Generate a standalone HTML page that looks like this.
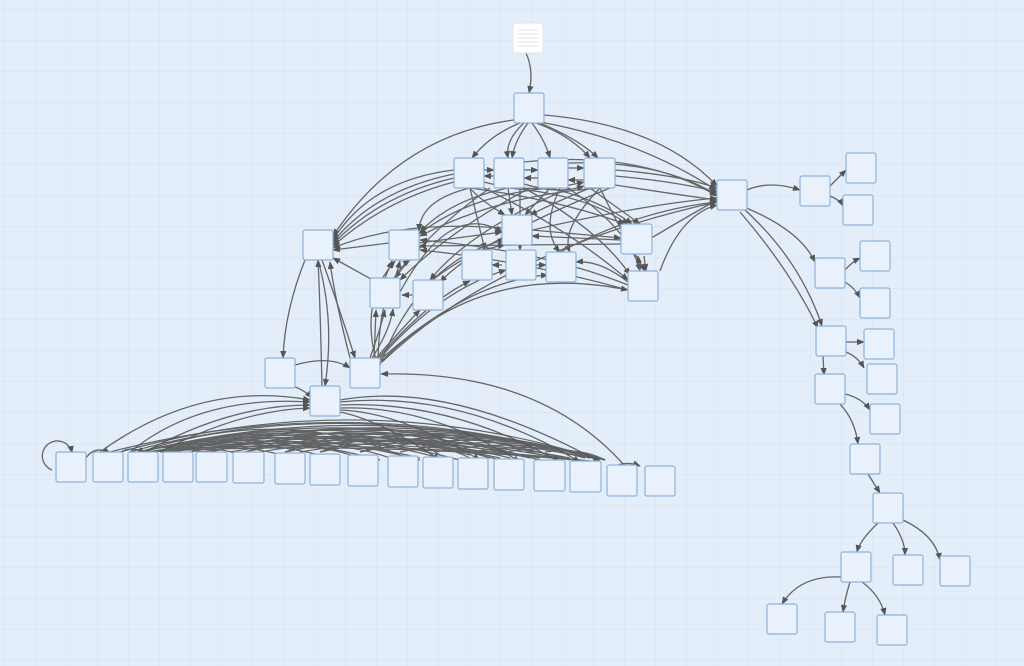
<!DOCTYPE html>
<html><head><meta charset="utf-8"><style>
html,body{margin:0;padding:0;width:1024px;height:666px;overflow:hidden;background:#e4eefa;}
svg{display:block}
</style></head><body>
<svg width="1024" height="666" viewBox="0 0 1024 666" xmlns="http://www.w3.org/2000/svg">
<defs>
<pattern id="g" width="31" height="31" patternUnits="userSpaceOnUse" x="5" y="10">
<path d="M31 0V31H0" fill="none" stroke="#d3e1f1" stroke-width="1"/>
</pattern>
<marker id="a" viewBox="0 0 10 10" refX="9" refY="5" markerWidth="6" markerHeight="6" orient="auto"><path d="M0 1L10 5L0 9z" fill="#555"/></marker>
</defs>
<rect width="1024" height="666" fill="#e4eefa"/>
<rect width="1024" height="666" fill="url(#g)"/>
<g fill="none" stroke="#666" stroke-width="1.3" marker-end="url(#a)">
<path d="M526 53Q534 70 529 93"/>
<path d="M520 123Q490 135 472 158"/>
<path d="M524 123Q505 140 508 158"/>
<path d="M528 123Q515 140 512 158"/>
<path d="M532 123Q545 140 550 158"/>
<path d="M536 123Q570 135 590 158"/>
<path d="M540 123Q580 140 598 158"/>
<path d="M514 120Q400 135 333 236"/>
<path d="M544 115Q660 125 717 186"/>
<path d="M540 122Q640 140 716 190"/>
<path d="M484 170L494 170"/><path d="M494 176L484 176"/>
<path d="M524 170L538 170"/><path d="M538 178L524 178"/>
<path d="M568 168L584 168"/><path d="M584 180L568 180"/>
<path d="M484 182Q530 195 584 182"/>
<path d="M524 184Q560 195 584 186"/>
<path d="M615 170Q680 175 717 188"/>
<path d="M615 176Q680 182 717 192"/>
<path d="M568 163Q660 160 717 195"/>
<path d="M524 162Q640 150 717 196"/>
<path d="M615 185Q680 195 717 200"/>
<path d="M660 271Q680 215 717 205"/>
<path d="M560 252Q640 210 717 202"/>
<path d="M524 232Q640 205 717 198"/>
<path d="M648 240Q690 215 717 200"/>
<path d="M454 170Q370 180 333 240"/>
<path d="M454 174Q375 190 333 242"/>
<path d="M454 178Q380 195 333 244"/>
<path d="M454 182Q385 200 333 246"/>
<path d="M389 243L333 250"/>
<path d="M502 228Q400 220 333 248"/>
<path d="M470 188Q480 200 505 215"/>
<path d="M508 188L512 215"/>
<path d="M550 188L525 215"/>
<path d="M590 188Q560 200 530 215"/>
<path d="M470 188Q420 200 419 231"/>
<path d="M508 188Q450 200 420 232"/>
<path d="M550 188Q470 195 419 234"/>
<path d="M600 188Q500 195 420 236"/>
<path d="M470 188Q560 200 625 224"/>
<path d="M508 188Q590 195 628 225"/>
<path d="M550 188Q600 200 632 224"/>
<path d="M590 188L640 224"/>
<path d="M484 188Q570 230 628 280"/>
<path d="M524 188Q600 230 630 275"/>
<path d="M568 188Q630 230 640 271"/>
<path d="M600 188Q620 230 645 271"/>
<path d="M470 188Q480 230 485 250"/>
<path d="M520 188Q520 230 520 250"/>
<path d="M560 188Q540 230 560 252"/>
<path d="M600 188Q560 230 570 252"/>
<path d="M490 188Q430 230 395 278"/>
<path d="M530 188Q450 230 400 280"/>
<path d="M570 188Q470 230 430 280"/>
<path d="M610 188Q480 240 440 282"/>
<path d="M419 243L502 232"/>
<path d="M532 230L621 238"/>
<path d="M621 240L532 236"/>
<path d="M621 244L419 246"/>
<path d="M502 265L492 265"/>
<path d="M536 265L546 265"/>
<path d="M628 285Q540 250 420 240"/>
<path d="M628 290Q520 260 420 250"/>
<path d="M628 282Q600 260 576 262"/>
<path d="M640 271L638 256"/><path d="M644 256L646 271"/>
<path d="M395 280L400 261"/><path d="M385 278L392 261"/>
<path d="M400 295L333 258"/>
<path d="M413 295L402 295"/>
<path d="M400 292Q450 200 502 232"/>
<path d="M430 282Q470 250 505 245"/>
<path d="M305 260Q285 310 283 358"/>
<path d="M322 260Q340 310 355 358"/>
<path d="M318 260Q335 320 325 386"/>
<path d="M350 358Q335 300 330 262"/>
<path d="M295 365Q330 355 350 368"/>
<path d="M290 385Q305 390 312 398"/>
<path d="M370 358Q380 330 385 310"/>
<path d="M372 358Q390 330 393 309"/>
<path d="M374 358L376 310"/>
<path d="M376 358Q410 320 420 310"/>
<path d="M378 358Q430 300 470 281"/>
<path d="M380 358Q440 290 506 270"/>
<path d="M380 360Q470 280 548 275"/>
<path d="M381 362Q480 260 628 290"/>
<path d="M380 365Q420 260 505 240"/>
<path d="M378 360Q380 280 410 260"/>
<path d="M376 360Q360 300 395 261"/>
<path d="M382 362Q500 250 717 202"/>
<path d="M322 386Q320 300 318 260"/>
<path d="M625 466Q540 370 381 374"/>
<path d="M747 190Q770 180 800 190"/>
<path d="M830 186Q838 178 846 170"/>
<path d="M830 196Q840 200 843 206"/>
<path d="M744 207Q800 230 815 262"/>
<path d="M745 210Q800 260 822 326"/>
<path d="M740 212Q790 270 818 328"/>
<path d="M845 270Q852 262 860 258"/>
<path d="M845 282Q855 288 860 298"/>
<path d="M846 342Q855 342 864 342"/>
<path d="M846 352Q858 357 864 368"/>
<path d="M823 356L824 375"/>
<path d="M845 394Q862 398 870 410"/>
<path d="M840 404Q855 420 858 444"/>
<path d="M868 474L880 493"/>
<path d="M878 523Q860 540 857 552"/>
<path d="M893 523Q905 540 905 555"/>
<path d="M903 520Q935 535 940 560"/>
<path d="M841 577Q800 575 782 604"/>
<path d="M850 582Q845 598 843 612"/>
<path d="M862 582Q880 595 885 615"/>
<path d="M52 470A15 15 0 1 1 72 453"/>
<path d="M86 458Q95 445 110 453"/>
<path d="M120 453Q130 445 145 453"/>
<path d="M612 468Q625 460 640 466"/>
<path d="M100 452Q200 380 310 400"/>
<path d="M130 452Q200 395 310 402"/>
<path d="M145 452Q230 405 310 405"/>
<path d="M160 452Q240 410 310 408"/>
<path d="M340 400Q450 380 600 462"/>
<path d="M340 402Q460 390 580 462"/>
<path d="M340 405Q450 400 560 462"/>
<path d="M340 408Q430 405 520 462"/>
<path d="M340 410Q400 412 480 460"/>
<path d="M340 412Q380 420 440 460"/>
</g>
<g fill="none" stroke="#555" stroke-width="1.2" opacity="0.9">
<path d="M140 452Q370 395 600 460"/>
<path d="M140 452Q350 400 570 460"/>
<path d="M140 452Q330 405 540 460"/>
<path d="M140 452Q310 410 500 460"/>
<path d="M140 452Q290 415 460 460"/>
<path d="M140 452Q270 420 420 460"/>
<path d="M140 452Q250 425 380 460"/>
<path d="M140 452Q230 430 340 460"/>
<path d="M140 452Q210 433 300 460"/>
<path d="M140 452Q190 437 260 460"/>
<path d="M140 452Q175 440 225 460"/>
<path d="M175 452Q390 400 605 460"/>
<path d="M210 452Q410 405 605 460"/>
<path d="M245 452Q430 410 605 460"/>
<path d="M285 452Q450 415 605 460"/>
<path d="M320 452Q470 420 605 460"/>
<path d="M360 452Q490 425 605 460"/>
<path d="M400 452Q510 430 605 460"/>
<path d="M435 452Q530 435 605 460"/>
<path d="M470 452Q550 440 605 460"/>
<path d="M505 452Q565 443 605 460"/>
<path d="M545 452Q580 447 605 460"/>
<path d="M175 452Q300 420 440 458"/>
<path d="M210 452Q330 422 500 458"/>
<path d="M245 452Q360 425 540 458"/>
<path d="M285 452Q400 425 570 458"/>
<path d="M140 452Q280 405 400 455"/>
<path d="M175 452Q300 412 470 455"/>
<path d="M210 452Q350 405 520 455"/>
<path d="M245 452Q370 410 480 455"/>
<path d="M285 452Q380 415 440 455"/>
<path d="M320 452Q420 415 540 455"/>
<path d="M360 452Q460 418 570 455"/>
<path d="M110 452Q350 390 590 458"/>
<path d="M120 452Q360 385 595 458"/>
<path d="M130 452Q340 392 585 458"/>
<path d="M150 452Q360 412 590 458"/>
<path d="M160 452Q340 418 560 458"/>
<path d="M190 452Q360 420 530 458"/>
<path d="M230 452Q380 425 510 458"/>
<path d="M260 452Q400 428 490 458"/>
<path d="M300 452Q420 432 470 458"/>
<path d="M150 452Q300 428 420 458"/>
<path d="M165 452Q320 432 390 458"/>
<path d="M200 452Q300 436 360 458"/>
<path d="M145 452Q300 430 600 462"/>
<path d="M145 452Q330 436 600 462"/>
<path d="M145 452Q360 440 600 462"/>
</g>
<g fill="#e8f1fc" stroke="#8fb3d9" stroke-width="1.2">
<rect x="514" y="93" width="30" height="30" rx="2"/>
<rect x="454" y="158" width="30" height="30" rx="2"/>
<rect x="494" y="158" width="30" height="30" rx="2"/>
<rect x="538" y="158" width="30" height="30" rx="2"/>
<rect x="584" y="158" width="31" height="30" rx="2"/>
<rect x="717" y="180" width="30" height="30" rx="2"/>
<rect x="800" y="176" width="30" height="30" rx="2"/>
<rect x="846" y="153" width="30" height="30" rx="2"/>
<rect x="843" y="195" width="30" height="30" rx="2"/>
<rect x="815" y="258" width="30" height="30" rx="2"/>
<rect x="860" y="241" width="30" height="30" rx="2"/>
<rect x="860" y="288" width="30" height="30" rx="2"/>
<rect x="816" y="326" width="30" height="30" rx="2"/>
<rect x="864" y="329" width="30" height="30" rx="2"/>
<rect x="867" y="364" width="30" height="30" rx="2"/>
<rect x="815" y="374" width="30" height="30" rx="2"/>
<rect x="870" y="404" width="30" height="30" rx="2"/>
<rect x="850" y="444" width="30" height="30" rx="2"/>
<rect x="873" y="493" width="30" height="30" rx="2"/>
<rect x="841" y="552" width="30" height="30" rx="2"/>
<rect x="893" y="555" width="30" height="30" rx="2"/>
<rect x="940" y="556" width="30" height="30" rx="2"/>
<rect x="767" y="604" width="30" height="30" rx="2"/>
<rect x="825" y="612" width="30" height="30" rx="2"/>
<rect x="877" y="615" width="30" height="30" rx="2"/>
<rect x="303" y="230" width="30" height="30" rx="2"/>
<rect x="389" y="230" width="30" height="30" rx="2"/>
<rect x="502" y="215" width="30" height="30" rx="2"/>
<rect x="621" y="224" width="31" height="30" rx="2"/>
<rect x="462" y="250" width="30" height="30" rx="2"/>
<rect x="506" y="250" width="30" height="30" rx="2"/>
<rect x="546" y="252" width="30" height="30" rx="2"/>
<rect x="628" y="271" width="30" height="30" rx="2"/>
<rect x="370" y="278" width="30" height="30" rx="2"/>
<rect x="413" y="280" width="30" height="30" rx="2"/>
<rect x="265" y="358" width="30" height="30" rx="2"/>
<rect x="350" y="358" width="30" height="30" rx="2"/>
<rect x="310" y="386" width="30" height="30" rx="2"/>
<rect x="56" y="452" width="30" height="30" rx="2"/>
<rect x="93" y="452" width="30" height="30" rx="2"/>
<rect x="128" y="452" width="30" height="30" rx="2"/>
<rect x="163" y="452" width="30" height="30" rx="2"/>
<rect x="196" y="452" width="31" height="30" rx="2"/>
<rect x="233" y="452" width="31" height="31" rx="2"/>
<rect x="275" y="453" width="30" height="31" rx="2"/>
<rect x="310" y="454" width="30" height="31" rx="2"/>
<rect x="348" y="455" width="30" height="31" rx="2"/>
<rect x="388" y="456" width="30" height="31" rx="2"/>
<rect x="423" y="457" width="30" height="31" rx="2"/>
<rect x="458" y="458" width="30" height="31" rx="2"/>
<rect x="494" y="459" width="30" height="31" rx="2"/>
<rect x="534" y="460" width="31" height="31" rx="2"/>
<rect x="570" y="461" width="31" height="31" rx="2"/>
<rect x="607" y="465" width="30" height="31" rx="2"/>
<rect x="645" y="466" width="30" height="30" rx="2"/>
</g>
<rect x="513" y="23" width="30" height="30" rx="2" fill="#fff" stroke="#dfe6ee"/>
<path d="M518 30H538M518 34H538M518 38H538M518 42H538M518 46H538" stroke="#e3e3e3" stroke-width="1"/>
</svg>
</body></html>
